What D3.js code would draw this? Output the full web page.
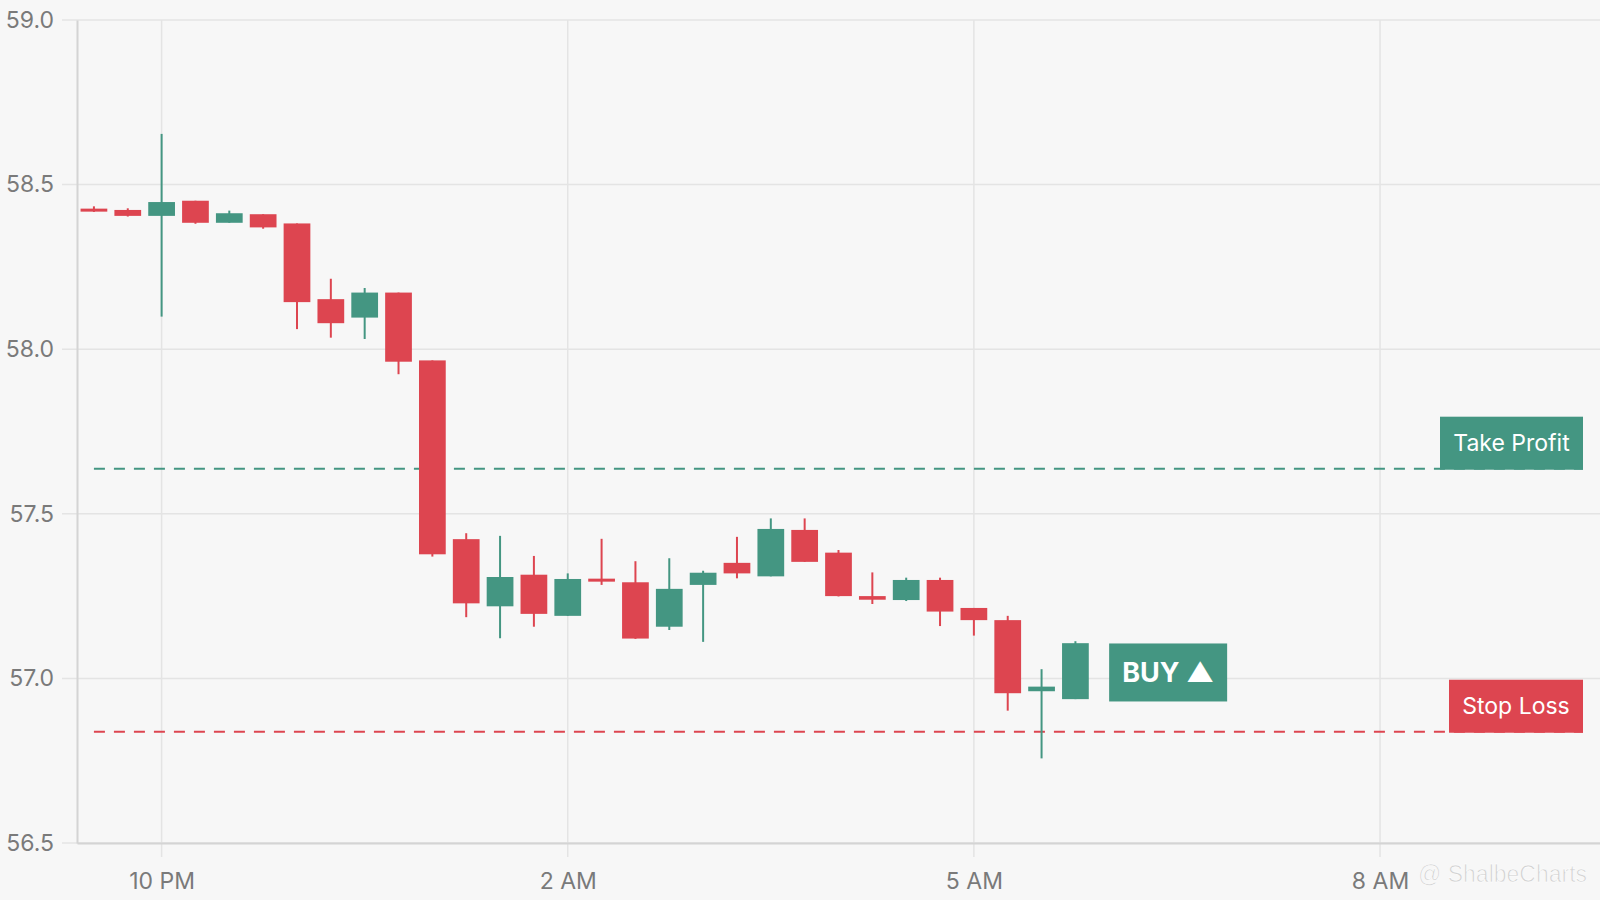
<!DOCTYPE html>
<html>
<head>
<meta charset="utf-8">
<script src="https://cdn.jsdelivr.net/npm/d3@7/dist/d3.min.js"></script>
<style>
  html, body { margin: 0; padding: 0; background: #f7f7f7; }
  svg { display: block; font-family: Inter, "Noto Sans", sans-serif; }
</style>
</head>
<body>
<svg id="chart" width="1600" height="900"></svg>
<script>
// ---- data ----
const candleIndex = [0,1,2,3,4,5,6,7,8,9,10,11,12,13,14,15,16,17,18,19,20,21,22,23,24,25,26,27,28,29];
const opens  = [58.427,58.423,58.405,58.451,58.384,58.410,58.382,58.152,58.096,58.172,57.966,57.423,57.219,57.315,57.190,57.303,57.292,57.157,57.284,57.351,57.310,57.451,57.382,57.250,57.238,57.299,57.214,57.177,56.961,56.937];
const highs  = [58.434,58.428,58.654,58.451,58.421,58.410,58.382,58.214,58.186,58.172,57.966,57.441,57.433,57.372,57.319,57.424,57.356,57.365,57.327,57.430,57.486,57.486,57.390,57.322,57.306,57.306,57.214,57.190,57.028,57.113];
const lows   = [58.417,58.403,58.099,58.381,58.384,58.366,58.061,58.035,58.031,57.924,57.370,57.186,57.122,57.157,57.190,57.284,57.120,57.147,57.111,57.304,57.310,57.354,57.249,57.226,57.235,57.159,57.130,56.902,56.757,56.937];
const closes = [58.419,58.405,58.447,58.384,58.413,58.370,58.143,58.079,58.172,57.962,57.377,57.228,57.308,57.196,57.302,57.294,57.121,57.272,57.321,57.319,57.454,57.354,57.250,57.239,57.299,57.203,57.177,56.955,56.975,57.107];

const yTicks = [56.5, 57.0, 57.5, 58.0, 58.5, 59.0];
const xTickIndex = [2, 14, 26, 38];
const xTickLabels = ["10 PM", "2 AM", "5 AM", "8 AM"];

const takeProfit = 57.637;
const stopLoss = 56.838;
const buyIndex = 31.74;   // centre of the BUY tag, in candle-index units
const buyPrice = 57.018;

// ---- layout ----
const W = 1600, H = 900;
const m = { left: 77, right: 0, top: 20, bottom: 57 };
const GREEN = "#449682", RED = "#dd4550";

const svg = d3.select("#chart");
svg.append("rect").attr("width", W).attr("height", H).attr("fill", "#f7f7f7");

const x = d3.scaleLinear().domain([-0.5, 44.5]).range([m.left, W - m.right]);
const y = d3.scaleLinear().domain([56.5, 59.0]).range([H - m.bottom, m.top]);
const step = x(1) - x(0);
const bodyW = step * 0.79;

// grid
svg.append("g").selectAll("line").data(yTicks).join("line")
  .attr("x1", m.left - 15).attr("x2", W)
  .attr("y1", d => y(d)).attr("y2", d => y(d))
  .attr("stroke", "#e4e4e4").attr("stroke-width", 1.5);
svg.append("g").selectAll("line").data(xTickIndex).join("line")
  .attr("x1", d => x(d)).attr("x2", d => x(d))
  .attr("y1", m.top).attr("y2", H - m.bottom + 14)
  .attr("stroke", "#e4e4e4").attr("stroke-width", 1.5);

// axes
const yAxis = d3.axisLeft(y).tickValues(yTicks).tickFormat(d3.format(".1f")).tickSize(0).tickPadding(23);
const gy = svg.append("g").attr("transform", `translate(${m.left},0)`).call(yAxis);
gy.select(".domain").attr("stroke", "#d4d4d4").attr("stroke-width", 2);
gy.selectAll("text").attr("fill", "#7a7a7a").style("font-size", "23px").style("font-family", "Inter, sans-serif");

const xAxis = d3.axisBottom(x).tickValues(xTickIndex).tickFormat((d, i) => xTickLabels[i]).tickSize(0).tickPadding(30);
const gx = svg.append("g").attr("transform", `translate(0,${H - m.bottom})`).call(xAxis);
gx.select(".domain").attr("stroke", "#d4d4d4").attr("stroke-width", 2);
gx.selectAll("text").attr("fill", "#7a7a7a").style("font-size", "23px").style("font-family", "Inter, sans-serif");

// level lines
const levels = [
  { v: takeProfit, c: GREEN, label: "Take Profit", w: 143 },
  { v: stopLoss, c: RED, label: "Stop Loss", w: 134 }
];
const xEnd = x(44.5) - 17;
levels.forEach(l => {
  svg.append("rect").attr("x", xEnd - l.w).attr("y", y(l.v) - 52).attr("width", l.w).attr("height", 53).attr("fill", l.c);
  svg.append("text").attr("x", xEnd - l.w / 2).attr("y", y(l.v) - 26).attr("text-anchor", "middle")
    .attr("dominant-baseline", "central").attr("fill", "#fff").style("font-size", "23px").text(l.label);
  svg.append("line").attr("x1", x(0)).attr("x2", xEnd).attr("y1", y(l.v)).attr("y2", y(l.v))
    .attr("stroke", l.c).attr("stroke-width", 2).attr("stroke-dasharray", "11,9");
});

// candles
const candles = candleIndex.map((i, k) => ({ i, o: opens[k], h: highs[k], l: lows[k], c: closes[k] }));
const g = svg.append("g");
g.selectAll("line.wick").data(candles).join("line").attr("class", "wick")
  .attr("x1", d => x(d.i)).attr("x2", d => x(d.i))
  .attr("y1", d => y(d.h)).attr("y2", d => y(d.l))
  .attr("stroke", d => d.c >= d.o ? GREEN : RED).attr("stroke-width", 2);
g.selectAll("rect.body").data(candles).join("rect").attr("class", "body")
  .attr("x", d => x(d.i) - bodyW / 2).attr("width", bodyW)
  .attr("y", d => y(Math.max(d.o, d.c)))
  .attr("height", d => Math.max(3, Math.abs(y(d.o) - y(d.c))))
  .attr("fill", d => d.c >= d.o ? GREEN : RED);

// BUY tag
const bx = x(buyIndex), by = y(buyPrice);
svg.append("rect").attr("x", bx - 59).attr("y", by - 29).attr("width", 118).attr("height", 58).attr("fill", GREEN);
svg.append("text").attr("x", bx).attr("y", by).attr("text-anchor", "middle").attr("dominant-baseline", "central")
  .attr("fill", "#fff").style("font-size", "27px").style("font-weight", "700").text("BUY ▲");

// watermark
svg.append("text").attr("x", 1418).attr("y", 882).attr("text-anchor", "start")
  .attr("fill", "#d2d2d2").attr("stroke", "#ffffff").attr("stroke-width", 0.6)
  .style("font-size", "23px").style("font-family", "'Liberation Sans', sans-serif").text("@ ShalbeCharts");
</script>
</body>
</html>
